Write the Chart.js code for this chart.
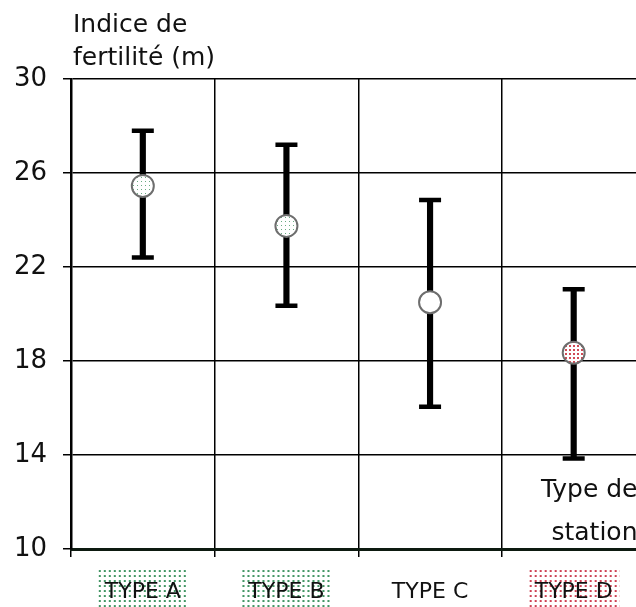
<!DOCTYPE html>
<html>
<head>
<meta charset="utf-8">
<script src="https://cdn.jsdelivr.net/npm/chart.js@4/dist/chart.umd.min.js"></script>
<style>
  html, body { margin: 0; padding: 0; background: #fff; overflow: hidden; }
  #wrap { width: 636px; height: 607px; overflow: hidden; }
  canvas { display: block; }
</style>
</head>
<body>
<div id="wrap"><canvas id="fertChart" width="661" height="607"></canvas></div>
<script>
// valeurs
const stationTypes = ['TYPE A', 'TYPE B', 'TYPE C', 'TYPE D'];
const meanIndex = [25.45, 23.75, 20.5, 18.35];
const lowIndex = [22.4, 20.35, 16.05, 13.85];
const highIndex = [27.8, 27.2, 24.85, 21.05];
const yTicks = [10, 14, 18, 22, 26, 30];

const FONT = "'DejaVu Sans', Verdana, sans-serif";

// petits motifs pointillés (trame verte / rouge)
function dotPattern(color, size, dot, bg) {
    const c = document.createElement('canvas');
    c.width = size; c.height = size;
    const g = c.getContext('2d');
    g.fillStyle = bg;
    g.fillRect(0, 0, size, size);
    g.fillStyle = color;
    g.fillRect(1, 1, dot, dot);
    return document.getElementById('fertChart').getContext('2d').createPattern(c, 'repeat');
}

const greenTrame = dotPattern('#3f9462', 5, 2, '#ffffff');
const redTrame = dotPattern('#cc3f52', 5, 2, '#ffffff');
const greenDots = dotPattern('#6aaa82', 4, 1, '#ffffff');
const redDots = dotPattern('#d04a56', 4, 2, '#ffffff');

const labelTrames = [greenTrame, greenTrame, null, redTrame];
const markerFills = [greenDots, greenDots, '#ffffff', redDots];

// textes libres : titre de l'axe y et "Type de station"
const annotations = {
    id: 'annotations',
    afterDraw(chart) {
        const { ctx, chartArea } = chart;
        ctx.save();
        ctx.fillStyle = '#111';
        ctx.font = '25px ' + FONT;
        ctx.textBaseline = 'alphabetic';
        ctx.textAlign = 'left';
        ctx.fillText('Indice de', chartArea.left + 2, chartArea.top - 47);
        ctx.fillText('fertilité (m)', chartArea.left + 2, chartArea.top - 14);
        ctx.textAlign = 'right';
        ctx.fillText('Type de', chartArea.right - 8, chartArea.bottom - 52);
        ctx.fillText('station', chartArea.right - 8, chartArea.bottom - 9);
        ctx.restore();
    }
};

new Chart(document.getElementById('fertChart'), {
    data: {
        labels: stationTypes,
        datasets: [
            {
                type: 'line',
                label: 'moyenne',
                data: meanIndex,
                showLine: false,
                pointRadius: 11,
                pointBorderWidth: 2,
                pointBorderColor: '#6e6e6e',
                pointBackgroundColor: markerFills,
                order: 0
            },
            {
                type: 'line',
                label: 'max',
                data: highIndex,
                showLine: false,
                pointStyle: 'line',
                pointRadius: 11,
                pointBorderWidth: 4.5,
                pointBorderColor: '#000',
                order: 1
            },
            {
                type: 'line',
                label: 'min',
                data: lowIndex,
                showLine: false,
                pointStyle: 'line',
                pointRadius: 11,
                pointBorderWidth: 4.5,
                pointBorderColor: '#000',
                order: 1
            },
            {
                type: 'bar',
                label: 'intervalle',
                data: lowIndex.map((v, i) => [v, highIndex[i]]),
                backgroundColor: '#000',
                barThickness: 5.5,
                order: 2
            }
        ]
    },
    options: {
        responsive: false,
        animation: false,
        devicePixelRatio: 1,
        layout: { padding: { top: 79, left: 0, right: 4, bottom: 0 } },
        plugins: { legend: { display: false }, tooltip: { enabled: false } },
        scales: {
            x: {
                type: 'category',
                offset: true,
                grid: { offset: true, color: '#000', lineWidth: 1.5, tickLength: 8 },
                border: { color: '#0d1a10', width: 3 },
                ticks: {
                    color: '#111',
                    font: { family: FONT, size: 22 },
                    padding: 22,
                    showLabelBackdrop: ctx => labelTrames[ctx.index] !== null,
                    backdropColor: ctx => labelTrames[ctx.index] || 'rgba(0,0,0,0)',
                    backdropPadding: { top: 10, bottom: 4, left: 7, right: 7 }
                },
                afterFit: scale => {
                    scale.height = 58;
                    scale.paddingLeft = 0;
                    scale.paddingRight = 0;
                }
            },
            y: {
                min: 10,
                max: 30,
                afterBuildTicks: scale => { scale.ticks = yTicks.map(v => ({ value: v })); },
                grid: { color: '#000', lineWidth: 1.5, tickLength: 8 },
                border: { color: '#000', width: 2.5 },
                ticks: {
                    color: '#111',
                    font: { family: FONT, size: 26 },
                    padding: 16
                },
                afterFit: scale => { scale.width = 71; }
            }
        }
    },
    plugins: [annotations]
});
</script>
</body>
</html>
